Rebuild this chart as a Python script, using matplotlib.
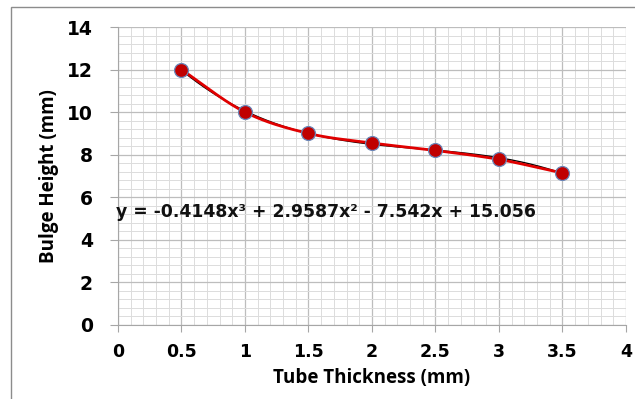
import numpy as np
import matplotlib.pyplot as plt
from matplotlib.patches import Rectangle
from matplotlib.ticker import MultipleLocator

# datos
espesor = [0.5, 1.0, 1.5, 2.0, 2.5, 3.0, 3.5]
altura = [12.0, 10.0, 9.0, 8.55, 8.2, 7.78, 7.14]
coefs = [-0.4148, 2.9587, -7.542, 15.056]
ecuacion = 'y = -0.4148x³ + 2.9587x² - 7.542x + 15.056'
etiquetas_x = ['0', '0.5', '1', '1.5', '2', '2.5', '3', '3.5', '4']
etiquetas_y = ['0', '2', '4', '6', '8', '10', '12', '14']

plt.rcParams['font.family'] = ['Open Sans', 'DejaVu Sans']
ancha = ['DejaVu Sans']


def suavizar(x, y, n=30):
    # curva suavizada tipo Catmull-Rom (como la linea suavizada de Excel)
    x = np.asarray(x, float)
    y = np.asarray(y, float)
    px = np.concatenate([[2 * x[0] - x[1]], x, [2 * x[-1] - x[-2]]])
    py = np.concatenate([[2 * y[0] - y[1]], y, [2 * y[-1] - y[-2]]])
    xs, ys = [], []
    t = np.linspace(0, 1, n)
    for i in range(1, len(px) - 2):
        for p, out in ((px, xs), (py, ys)):
            p0, p1, p2, p3 = p[i - 1], p[i], p[i + 1], p[i + 2]
            out.extend(0.5 * ((2 * p1) + (-p0 + p2) * t
                              + (2 * p0 - 5 * p1 + 4 * p2 - p3) * t ** 2
                              + (-p0 + 3 * p1 - 3 * p2 + p3) * t ** 3))
    return np.array(xs), np.array(ys)


fig = plt.figure(figsize=(6.35, 3.99), dpi=100)
ax = fig.add_axes([0.1858, 0.1855, 0.8, 0.7468])

# marco exterior (solo izquierda y arriba visibles)
fig.patches.append(Rectangle((11 / 635, -0.1), 1.2, 1 - 7 / 399 + 0.1,
                             transform=fig.transFigure, fill=False,
                             edgecolor='#8c8c8c', linewidth=1.0))

ax.set_xlim(0, 4)
ax.set_ylim(0, 14)
ax.xaxis.set_minor_locator(MultipleLocator(0.1))
ax.yaxis.set_minor_locator(MultipleLocator(0.4))
ax.grid(which='major', color='#bdbdbd', linewidth=0.9)
ax.grid(which='minor', color='#dcdcdc', linewidth=0.7)
ax.set_axisbelow(True)
for lado in ['top', 'right']:
    ax.spines[lado].set_visible(False)
for lado in ['left', 'bottom']:
    ax.spines[lado].set_color('#a6a6a6')
ax.tick_params(which='minor', length=0)
ax.tick_params(axis='x', which='major', length=5, color='#a6a6a6', pad=8)
ax.tick_params(axis='y', which='major', length=6, color='#a6a6a6', pad=12)
ax.set_xticks([float(v) for v in etiquetas_x])
ax.set_xticklabels(etiquetas_x, fontweight='bold', fontsize=12.5, family=ancha)
ax.set_yticks([int(v) for v in etiquetas_y])
ax.set_yticklabels(etiquetas_y, fontweight='bold', fontsize=13.5, family=ancha)

ax.set_xlabel('Tube Thickness (mm)', fontsize=13.5, fontweight='bold', labelpad=5)
ax.set_ylabel('Bulge Height (mm)', fontsize=13.5, fontweight='bold', labelpad=6)

# linea de tendencia polinomica
xt = np.linspace(espesor[0], espesor[-1], 200)
ax.plot(xt, np.polyval(coefs, xt), color='black', linewidth=1.0, zorder=3)

# serie suavizada con marcadores
xs, ys = suavizar(espesor, altura)
ax.plot(xs, ys, color='#e00000', linewidth=2.0, zorder=4)
ax.plot(espesor, altura, linestyle='none', marker='o', markersize=10,
        markerfacecolor='#c00000', markeredgecolor='#6a86b8',
        markeredgewidth=0.9, zorder=5)

ax.text(-0.015, 5.3, ecuacion, fontsize=12.4, fontweight='bold', color='#111111',
        family=ancha, ha='left', va='center', zorder=6)

fig.savefig('out.png', dpi=100)
